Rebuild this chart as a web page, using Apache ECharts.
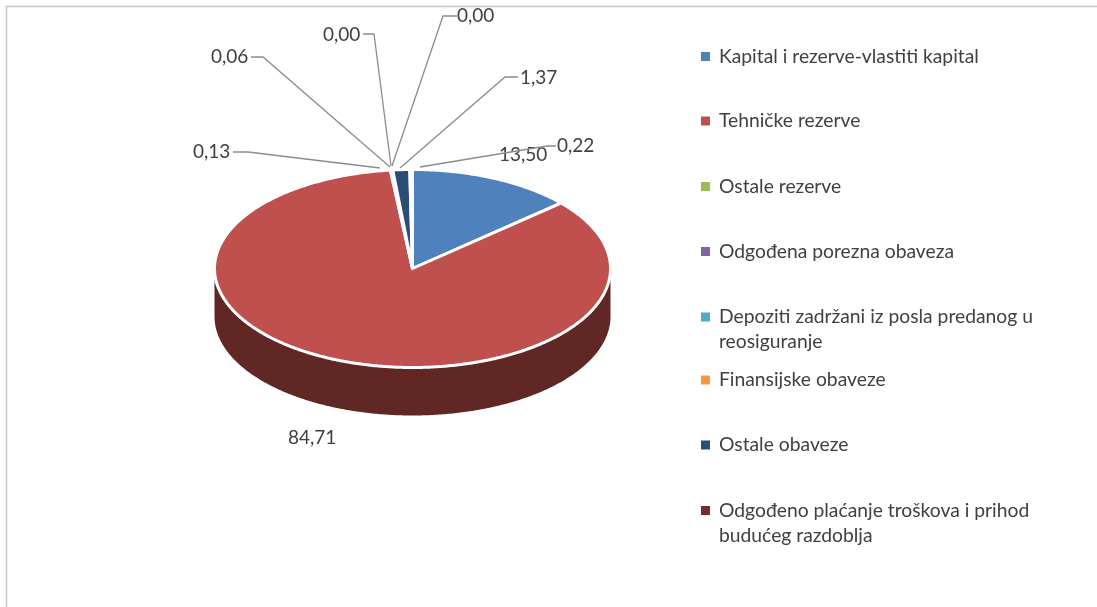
<!DOCTYPE html>
<html><head><meta charset="utf-8">
<style>html,body{margin:0;padding:0;background:#fff}#c{width:1097px;height:607px}</style>
<script src="https://cdn.jsdelivr.net/npm/echarts@6/dist/echarts.min.js"></script>
</head><body><div id="c"></div>
<script>
const categories = ['Kapital i rezerve-vlastiti kapital','Tehničke rezerve','Ostale rezerve','Odgođena porezna obaveza','Depoziti zadržani iz posla predanog u reosiguranje','Finansijske obaveze','Ostale obaveze','Odgođeno plaćanje troškova i prihod budućeg razdoblja'];
const values = [13.50, 84.71, 0.13, 0.06, 0.00, 0.00, 1.37, 0.22];
const valueLabels = ['13,50','84,71','0,13','0,06','0,00','0,00','1,37','0,22'];
const colors = ['#4F81BD','#C0504D','#9BBB59','#8064A2','#4BACC6','#F79646','#2C4D75','#772C2A'];
const wallColors = ['#2A4564','#602725','#536332','#443556','#285B69','#834F25','#17293E','#3F1716'];

const legendLines = [['Kapital i rezerve-vlastiti kapital'],['Tehničke rezerve'],['Ostale rezerve'],['Odgođena porezna obaveza'],['Depoziti zadržani iz posla predanog u','reosiguranje'],['Finansijske obaveze'],['Ostale obaveze'],['Odgođeno plaćanje troškova i prihod','budućeg razdoblja']];
const legendTops = [51,115.5,181,246,311,374.5,439.5,504.5];

// Layout of the pie projection
const CX = 412.5, CY = 268.5, RX = 198, RY = 99, DEPTH = 48;
const FONT = 'Lato', TEXT = '#404040';

// Hand-placed data labels: text anchor, and the leader's elbow + foot (null = no leader)
const labelAt = [[499,155],[288,438],[193,152],[211,57],[323,35],[457,16],[520,78],[557,146]];
const leaders = [null,null,
  [[233,152],[248,152],[380,168]],
  [[251,57],[263,57],[390,167]],
  [[363,34],[374,34],[391,166]],
  [[457,16],[443,16],[392,166]],
  [[518,77],[505,77],[400,168]],
  [[556,146],[547,146],[420,167]]];

const total = values.reduce((a,b)=>a+b,0);
const starts = values.map((_,i)=>values.slice(0,i).reduce((a,b)=>a+b,0));
const ang = v => v/total*2*Math.PI;
const rim = (t,dy) => [CX+RX*Math.sin(t), CY-RY*Math.cos(t)+(dy||0)];
function arc(t0,t1,dy){
  const n = Math.max(2,Math.ceil(Math.abs(t1-t0)/0.01)), out=[];
  for(let k=0;k<=n;k++) out.push(rim(t0+(t1-t0)*k/n,dy));
  return out;
}

function renderWall(i){
  return function(params,api){
    const a0=Math.max(ang(starts[i]),Math.PI/2), a1=Math.min(ang(starts[i]+api.value(0)),Math.PI*1.5);
    if(a1<=a0) return {type:'group',children:[]};
    return {type:'polygon',shape:{points:arc(a0,a1,0).concat(arc(a1,a0,DEPTH))},style:{fill:wallColors[i]},silent:true};
  };
}
function renderTop(i){
  return function(params,api){
    const v=api.value(0), a0=ang(starts[i]), a1=ang(starts[i]+v), kids=[];
    if(v>0) kids.push({type:'polygon',shape:{points:[[CX,CY]].concat(arc(a0,a1,0))},
      style:{fill:colors[i],stroke:'#fff',lineWidth:3,lineJoin:'miter'},z2:1});
    return {type:'group',children:kids,silent:true};
  };
}
function renderLabel(i){
  return function(){
    const kids=[];
    if(leaders[i]) kids.push({type:'polyline',shape:{points:leaders[i]},style:{fill:'none',stroke:'#8C8C8C',lineWidth:1.3}});
    kids.push({type:'text',x:labelAt[i][0],y:labelAt[i][1],style:{text:valueLabels[i],fill:TEXT,font:'19px '+FONT,align:'left',verticalAlign:'middle'}});
    return {type:'group',children:kids,silent:true};
  };
}
const mk = (name,i,fn,z)=>({type:'custom',name,coordinateSystem:'none',data:[[values[i]]],renderItem:fn(i),z,animation:false,silent:true,itemStyle:{color:colors[i]},tooltip:{show:false}});

const series=[];
categories.forEach((c,i)=>series.push(mk(c,i,renderWall,1)));
categories.forEach((c,i)=>series.push(mk(c,i,renderTop,2)));
categories.forEach((c,i)=>series.push(mk(c,i,renderLabel,3)));

const legend = categories.map((c,i)=>({
  show:true, data:[{name:c,icon:'rect',itemStyle:{color:colors[i]}}], left:701,
  top:legendTops[i]-(legendLines[i].length>1?28.5:4), orient:'vertical',
  padding:0, itemWidth:9, itemHeight:9, selectedMode:false,
  formatter:()=>{
    const L=legendLines[i];
    return (L.length>1?'{t| }\n':'')+L.map(s=>'{t|'+s+'}').join('\n');
  },
  textStyle:{color:TEXT,fontFamily:FONT,fontSize:19.3,rich:{t:{color:TEXT,fontFamily:FONT,fontSize:19.3,lineHeight:25,padding:[0,0,0,4]}}}
}));

const chart=echarts.init(document.getElementById('c'),null,{renderer:'canvas'});
chart.setOption({
  animation:false, backgroundColor:'#fff', legend, series,
  graphic:[{type:'polyline',shape:{points:[[6.5,607],[6.5,6.5],[1097,6.5]]},style:{fill:'none',stroke:'#C8C8C8',lineWidth:1.5},silent:true}]
});
</script></body></html>
